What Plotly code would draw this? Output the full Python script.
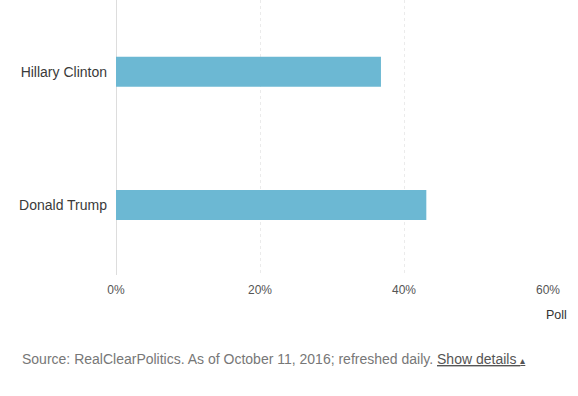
import plotly.graph_objects as go

candidates = ["Donald Trump", "Hillary Clinton"]
poll_values = [43.1, 36.8]
tick_values = [0, 20, 40, 60]
tick_labels = ["0%", "20%", "40%", "60%"]

FONT = "Arial, 'Liberation Sans', sans-serif"

fig = go.Figure()
fig.add_trace(go.Bar(
    x=poll_values,
    y=candidates,
    orientation="h",
    width=0.225,
    marker=dict(color="#6cb8d3", line=dict(width=0)),
    hoverinfo="x+y",
))

fig.update_layout(
    width=578,
    height=396,
    margin=dict(l=116, r=30, t=0, b=121),
    paper_bgcolor="white",
    plot_bgcolor="white",
    showlegend=False,
    font=dict(family=FONT),
    xaxis=dict(
        range=[0, 60],
        tickvals=tick_values,
        ticktext=tick_labels,
        showgrid=True,
        gridcolor="#ebebeb",
        griddash="3px,3px",
        gridwidth=1,
        zeroline=True,
        zerolinecolor="#dddddd",
        zerolinewidth=1,
        showline=False,
        ticks="",
        ticklabelstandoff=6,
        tickfont=dict(size=12, color="#555555", family=FONT),
        fixedrange=True,
    ),
    yaxis=dict(
        type="category",
        categoryorder="array",
        categoryarray=candidates,
        range=[-0.525, 1.538],
        showgrid=False,
        zeroline=False,
        showline=False,
        ticks="",
        ticklabelstandoff=8,
        tickfont=dict(size=14, color="#3a3a3a", family=FONT),
        fixedrange=True,
    ),
    annotations=[
        dict(
            text="Poll",
            xref="paper", yref="paper",
            x=1.0, y=0,
            xanchor="left", yanchor="middle",
            xshift=-4, yshift=-40,
            showarrow=False,
            font=dict(size=12.5, color="#333333", family=FONT),
        ),
        dict(
            text="Source: RealClearPolitics. As of October 11, 2016; refreshed daily. "
                 "<span style='color:#555555'><u>Show details "
                 "<span style='font-size:10px'>\u25b4</span></u></span>",
            xref="paper", yref="paper",
            x=(20 - 116) / 432, y=0,
            xanchor="left", yanchor="middle",
            yshift=-84,
            showarrow=False,
            font=dict(size=14, color="#777777", family=FONT),
        ),
    ],
)

fig.write_html(
    "out.html",
    config={"displayModeBar": False},
    post_script="document.body.style.margin='0';document.body.style.padding='0';",
)
